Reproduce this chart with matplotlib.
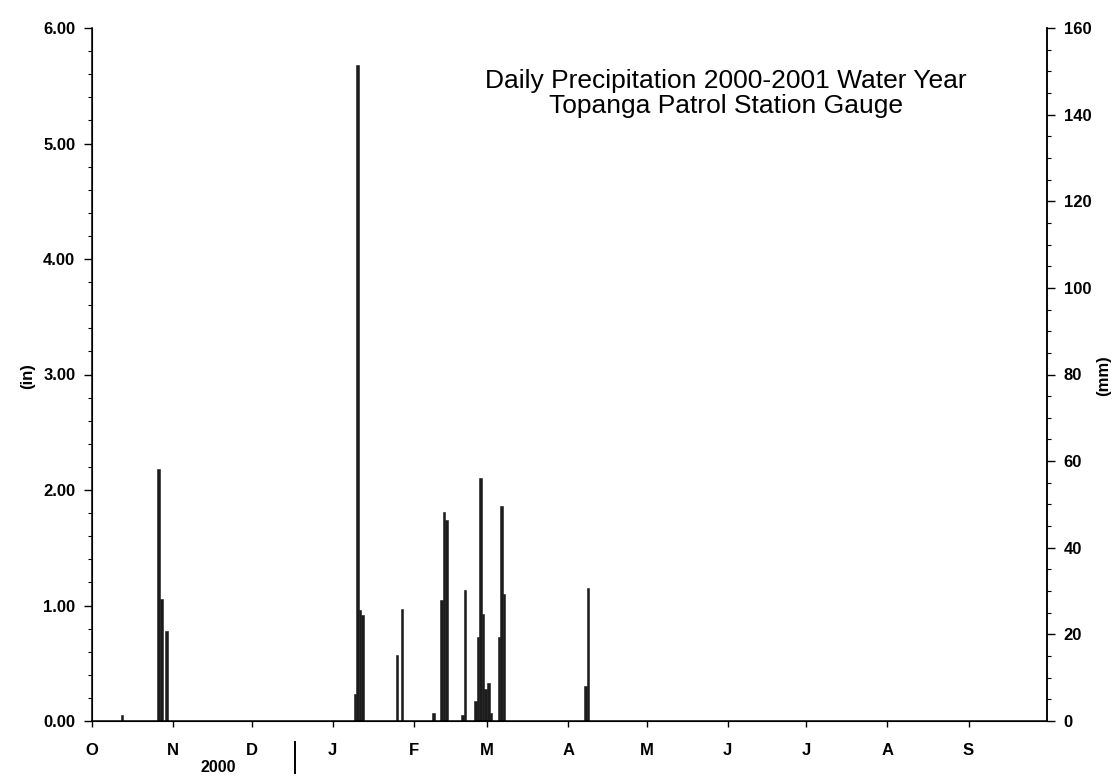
import matplotlib
matplotlib.use("Agg")
import matplotlib.pyplot as plt
from matplotlib.ticker import MultipleLocator, FixedLocator, FixedFormatter
import datetime as dt

plt.rcParams['font.family'] = ['Liberation Sans', 'DejaVu Sans']

# ---- data (daily precipitation, inches) ----
dates = ["2000-10-12", "2000-10-26", "2000-10-27", "2000-10-29",
         "2001-01-09", "2001-01-10", "2001-01-11", "2001-01-12",
         "2001-01-25", "2001-01-27",
         "2001-02-08", "2001-02-11", "2001-02-12", "2001-02-13",
         "2001-02-19", "2001-02-20",
         "2001-02-24", "2001-02-25", "2001-02-26", "2001-02-27",
         "2001-02-28", "2001-03-01", "2001-03-02",
         "2001-03-05", "2001-03-06", "2001-03-07",
         "2001-04-07", "2001-04-08"]
precip_in = [0.05, 2.18, 1.06, 0.78,
             0.23, 5.68, 0.96, 0.92,
             0.57, 0.97,
             0.07, 1.05, 1.81, 1.74,
             0.05, 1.13,
             0.17, 0.73, 2.10, 0.93,
             0.28, 0.33, 0.07,
             0.73, 1.86, 1.10,
             0.30, 1.15]
month_labels = ["O", "N", "D", "J", "F", "M", "A", "M", "J", "J", "A", "S"]
left_ticks = [0, 1, 2, 3, 4, 5, 6]
right_ticks = [0, 20, 40, 60, 80, 100, 120, 140, 160]
title_lines = ["Daily Precipitation 2000-2001 Water Year",
               "Topanga Patrol Station Gauge"]

W, H = 1119, 783
fig = plt.figure(figsize=(W / 100, H / 100), dpi=100)
ax = fig.add_axes([92 / W, 1 - 721 / H, (1047 - 92) / W, (721 - 28) / H])

start = dt.date(2000, 10, 1)
x = [(dt.date.fromisoformat(d) - start).days for d in dates]
ax.bar(x, precip_in, width=1.0, align='edge', color='#1c1c1c',
       edgecolor='#1c1c1c', linewidth=0.4)

ax.set_xlim(0, 365)
ax.set_ylim(0, 6)

month_starts = []
for i in range(12):
    yy = 2000 + (9 + i) // 12
    mm = (9 + i) % 12 + 1
    month_starts.append((dt.date(yy, mm, 1) - start).days)
ax.xaxis.set_major_locator(FixedLocator(month_starts))
ax.xaxis.set_major_formatter(FixedFormatter(month_labels))
ax.tick_params(axis='x', direction='out', length=4, width=1, pad=12,
               labelsize=12)

ax.yaxis.set_major_locator(FixedLocator(left_ticks))
ax.yaxis.set_minor_locator(MultipleLocator(0.2))
ax.set_yticklabels([f"{v:.2f}" for v in left_ticks])
ax.tick_params(axis='y', which='major', direction='out', length=6, width=1,
               labelsize=12, pad=6)
ax.tick_params(axis='y', which='minor', direction='out', length=3, width=0.8)
for lab in ax.get_xticklabels() + ax.get_yticklabels():
    lab.set_fontweight('bold')

ax.spines['top'].set_visible(False)
for s in ['left', 'bottom', 'right']:
    ax.spines[s].set_linewidth(1.1)

ax2 = ax.twinx()
ax2.set_ylim(0, 160)
ax2.yaxis.set_major_locator(FixedLocator(right_ticks))
ax2.yaxis.set_minor_locator(MultipleLocator(5))
ax2.tick_params(axis='y', which='major', direction='out', length=6, width=1,
                labelsize=12, pad=6)
ax2.tick_params(axis='y', which='minor', direction='out', length=3, width=0.8)
for lab in ax2.get_yticklabels():
    lab.set_fontweight('bold')
ax2.spines['top'].set_visible(False)
ax2.spines['right'].set_linewidth(1.1)

# axis unit labels
fig.text(28 / W, 1 - 376 / H, "(in)", rotation=90, ha='center', va='center',
         fontsize=12, fontweight='bold')
fig.text(1104 / W, 1 - 376 / H, "(mm)", rotation=90, ha='center', va='center',
         fontsize=12, fontweight='bold')

# title inside plot
fig.text(726 / W, 1 - 81 / H, title_lines[0], ha='center', va='center',
         fontsize=19)
fig.text(726 / W, 1 - 106 / H, title_lines[1], ha='center', va='center',
         fontsize=19)

# year marker below axis
fig.text(218 / W, 1 - 767 / H, "2000", ha='center', va='center',
         fontsize=11.5, fontweight='bold')
fig.add_artist(plt.Line2D([295 / W, 295 / W], [1 - 742 / H, 1 - 773 / H],
                          transform=fig.transFigure, color='black',
                          linewidth=1.4))

fig.savefig("out.png", dpi=100)
